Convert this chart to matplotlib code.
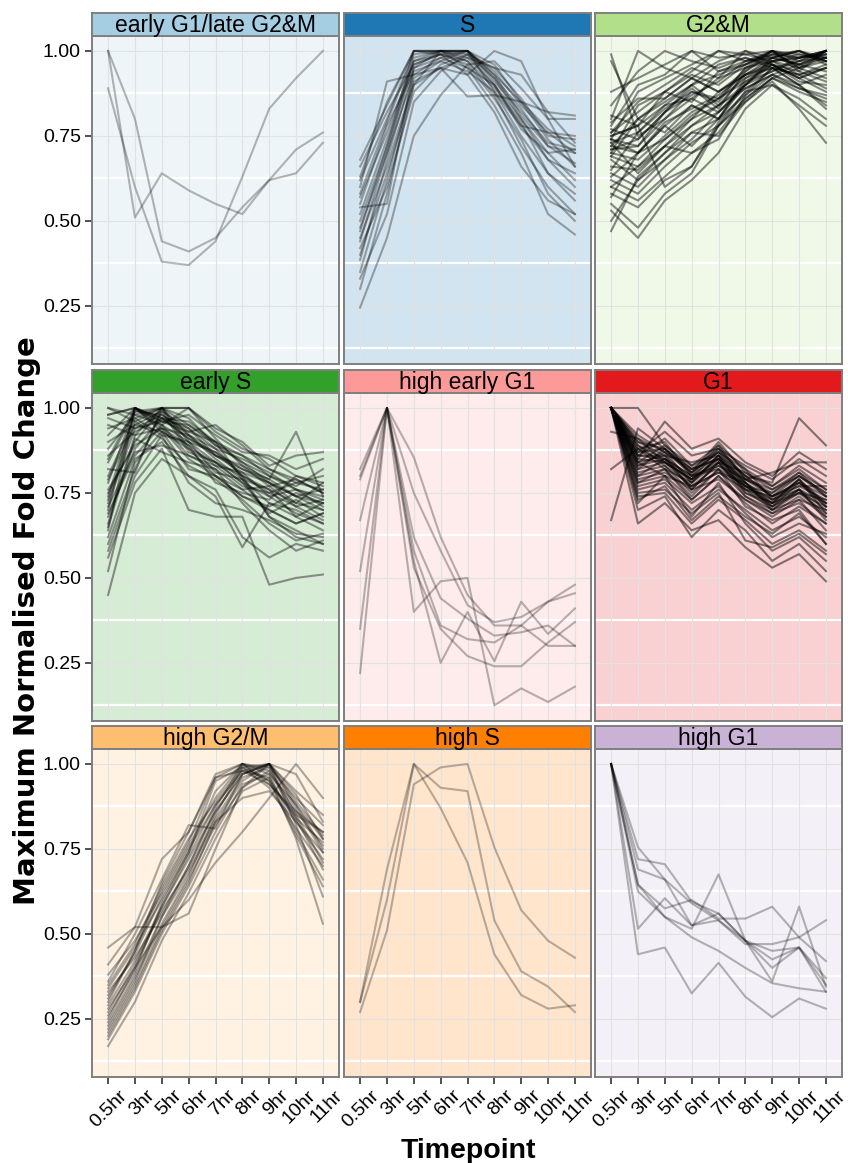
import numpy as np
import matplotlib
matplotlib.use("Agg")
import matplotlib.pyplot as plt
import matplotlib.transforms as mtransforms

plt.rcParams['font.family'] = ['Liberation Sans', 'DejaVu Sans']

# Timepoints on the x axis
timepoints = ["0.5hr", "3hr", "5hr", "6hr", "7hr", "8hr", "9hr", "10hr", "11hr"]

# Cluster names, in facet order
clusters = ["early G1/late G2&M", "S", "G2&M",
            "early S", "high early G1", "G1",
            "high G2/M", "high S", "high G1"]

# Strip colours (Paired palette)
strip_colours = ["#A6CEE3", "#1F78B4", "#B2DF8A",
                 "#33A02C", "#FB9A99", "#E31A1C",
                 "#FDBF6F", "#FF7F00", "#CAB2D6"]

# Profiles per cluster, one row per gene
early_g1_late_g2m = [
    [1.00, 0.80, 0.44, 0.41, 0.45, 0.54, 0.62, 0.71, 0.76],
    [1.00, 0.51, 0.64, 0.59, 0.55, 0.52, 0.62, 0.64, 0.73],
    [0.89, 0.60, 0.38, 0.37, 0.44, 0.63, 0.83, 0.92, 1.00],
]

s_phase = [
    [0.68, 0.84, 1.00, 1.00, 1.00, 0.93, 0.85, 0.77, 0.72],
    [0.62, 0.80, 1.00, 1.00, 0.98, 0.90, 0.80, 0.70, 0.62],
    [0.57, 0.76, 0.97, 1.00, 1.00, 0.92, 0.83, 0.72, 0.70],
    [0.54, 0.55, 0.95, 0.98, 1.00, 0.96, 0.85, 0.74, 0.66],
    [0.47, 0.72, 1.00, 1.00, 0.95, 0.90, 0.78, 0.68, 0.60],
    [0.44, 0.70, 0.98, 1.00, 1.00, 0.88, 0.75, 0.64, 0.56],
    [0.385, 0.68, 0.95, 1.00, 0.97, 0.87, 0.72, 0.60, 0.52],
    [0.35, 0.62, 0.92, 0.97, 1.00, 0.91, 0.82, 0.73, 0.71],
    [0.30, 0.58, 0.90, 0.95, 0.98, 0.95, 0.93, 0.82, 0.73],
    [0.245, 0.45, 0.75, 0.87, 0.96, 0.97, 0.89, 0.80, 0.66],
    [0.60, 0.91, 0.93, 0.95, 0.866, 0.87, 0.85, 0.82, 0.81],
    [0.66, 0.82, 0.96, 0.99, 0.93, 1.00, 0.97, 0.80, 0.80],
    [0.50, 0.72, 0.96, 0.99, 0.96, 0.86, 0.74, 0.58, 0.50],
    [0.48, 0.70, 0.93, 0.98, 0.95, 0.84, 0.70, 0.52, 0.46],
    [0.58, 0.79, 0.99, 1.00, 0.99, 0.90, 0.77, 0.70, 0.71],
    [0.52, 0.74, 0.97, 0.99, 1.00, 0.94, 0.84, 0.76, 0.70],
    [0.42, 0.60, 0.88, 0.96, 0.99, 0.92, 0.80, 0.68, 0.64],
    [0.55, 0.78, 0.94, 0.97, 0.94, 0.88, 0.78, 0.76, 0.75],
    [0.63, 0.85, 1.00, 0.99, 0.97, 0.89, 0.79, 0.64, 0.58],
    [0.45, 0.66, 0.91, 0.95, 0.93, 0.82, 0.66, 0.56, 0.52],
    [0.33, 0.52, 0.85, 0.94, 0.99, 0.95, 0.86, 0.75, 0.74],
    [0.40, 0.64, 0.90, 1.00, 1.00, 0.93, 0.81, 0.72, 0.67],
]

g2m = [
    [0.99, 0.75, 0.80, 0.88, 0.85, 0.95, 0.97, 0.98, 1.00],
    [0.97, 0.80, 0.85, 0.90, 0.93, 0.96, 1.00, 0.95, 0.97],
    [0.84, 0.94, 1.00, 0.97, 0.95, 0.98, 0.96, 0.92, 0.95],
    [0.80, 1.00, 0.95, 0.92, 0.88, 0.93, 0.95, 0.90, 0.93],
    [0.78, 0.90, 0.93, 1.00, 0.94, 0.97, 0.98, 0.96, 0.99],
    [0.76, 0.82, 0.88, 0.94, 1.00, 0.99, 0.97, 0.99, 0.98],
    [0.75, 0.78, 0.84, 0.90, 0.84, 0.93, 0.98, 1.00, 0.96],
    [0.74, 0.72, 0.80, 0.86, 0.82, 0.90, 0.96, 0.94, 1.00],
    [0.73, 0.76, 0.83, 0.88, 0.86, 0.95, 1.00, 0.97, 0.98],
    [0.72, 0.70, 0.78, 0.84, 0.80, 0.92, 0.97, 0.93, 0.95],
    [0.71, 0.74, 0.82, 0.89, 0.83, 0.94, 0.99, 0.98, 1.00],
    [0.70, 0.68, 0.75, 0.82, 0.86, 0.91, 0.96, 0.91, 0.90],
    [0.69, 0.66, 0.74, 0.80, 0.88, 0.94, 1.00, 0.95, 0.92],
    [0.72, 0.80, 0.86, 0.92, 0.97, 1.00, 0.96, 0.92, 0.88],
    [0.68, 0.62, 0.70, 0.78, 0.84, 0.90, 0.94, 0.97, 1.00],
    [0.66, 0.65, 0.72, 0.78, 0.82, 0.89, 0.93, 0.89, 0.86],
    [0.64, 0.60, 0.68, 0.76, 0.80, 0.90, 0.98, 1.00, 0.97],
    [0.62, 0.58, 0.66, 0.73, 0.78, 0.88, 0.95, 0.90, 0.84],
    [0.60, 0.56, 0.63, 0.70, 0.76, 0.86, 0.92, 0.95, 1.00],
    [0.58, 0.54, 0.62, 0.66, 0.79, 0.88, 0.90, 0.86, 0.80],
    [0.57, 0.70, 0.78, 0.72, 0.80, 0.87, 0.93, 0.96, 0.98],
    [0.55, 0.48, 0.58, 0.64, 0.78, 0.85, 0.92, 0.88, 0.85],
    [0.53, 0.45, 0.56, 0.62, 0.70, 0.83, 0.90, 0.84, 0.78],
    [0.50, 0.62, 0.68, 0.74, 0.82, 0.90, 0.97, 0.98, 1.00],
    [0.47, 0.63, 0.70, 0.76, 0.75, 0.85, 0.91, 0.83, 0.73],
    [0.88, 0.92, 0.96, 1.00, 0.98, 0.99, 1.00, 0.98, 0.99],
    [0.76, 0.85, 0.90, 0.95, 0.92, 1.00, 0.98, 1.00, 0.98],
    [0.74, 0.88, 0.92, 0.96, 1.00, 0.97, 0.99, 0.96, 1.00],
    [0.70, 0.84, 0.88, 0.93, 0.90, 0.96, 1.00, 0.99, 0.97],
    [0.73, 0.64, 0.72, 0.70, 0.74, 0.87, 0.95, 0.93, 0.89],
    [0.75, 0.78, 0.60, 0.66, 0.78, 0.86, 0.92, 0.89, 0.87],
    [0.71, 0.72, 0.82, 0.87, 0.91, 0.97, 1.00, 0.94, 0.91],
    [0.77, 0.74, 0.82, 0.90, 0.96, 0.98, 0.95, 0.97, 1.00],
    [0.65, 0.76, 0.84, 0.86, 0.92, 0.95, 0.98, 0.96, 0.94],
    [0.79, 0.86, 0.86, 0.92, 0.88, 0.93, 0.96, 0.92, 0.95],
    [0.69, 0.80, 0.76, 0.84, 0.80, 0.91, 0.94, 0.98, 0.99],
    [0.63, 0.70, 0.74, 0.81, 0.86, 0.92, 0.95, 0.93, 0.96],
    [0.81, 0.78, 0.88, 0.85, 0.94, 0.96, 0.99, 1.00, 0.97],
    [0.60, 0.66, 0.72, 0.80, 0.84, 0.89, 0.93, 0.90, 0.83],
    [0.74, 0.70, 0.79, 0.83, 0.87, 0.93, 0.97, 0.95, 0.98],
]

early_s = [
    [1.00, 0.96, 1.00, 0.95, 0.90, 0.86, 0.80, 0.76, 0.74],
    [0.98, 1.00, 0.94, 0.92, 0.86, 0.82, 0.78, 0.74, 0.72],
    [0.95, 0.92, 1.00, 1.00, 0.93, 0.88, 0.85, 0.80, 0.78],
    [0.92, 1.00, 0.97, 0.94, 0.88, 0.80, 0.76, 0.72, 0.70],
    [0.88, 0.98, 1.00, 0.90, 0.84, 0.78, 0.74, 0.76, 0.73],
    [0.85, 1.00, 0.96, 0.93, 0.95, 0.89, 0.82, 0.79, 0.75],
    [0.82, 0.81, 1.00, 0.88, 0.80, 0.74, 0.70, 0.66, 0.69],
    [0.78, 1.00, 0.95, 0.86, 0.82, 0.76, 0.77, 0.71, 0.67],
    [0.75, 0.90, 1.00, 1.00, 0.91, 0.83, 0.79, 0.74, 0.76],
    [0.72, 0.94, 0.98, 0.92, 0.85, 0.79, 0.72, 0.68, 0.64],
    [0.70, 1.00, 0.93, 0.89, 0.83, 0.77, 0.75, 0.78, 0.80],
    [0.68, 0.88, 0.97, 0.91, 0.87, 0.80, 0.68, 0.62, 0.60],
    [0.66, 0.92, 0.94, 0.85, 0.80, 0.74, 0.71, 0.75, 0.72],
    [0.64, 1.00, 0.96, 0.95, 0.89, 0.84, 0.80, 0.77, 0.82],
    [0.62, 0.85, 0.90, 0.80, 0.76, 0.62, 0.56, 0.60, 0.58],
    [0.60, 0.82, 0.99, 0.87, 0.84, 0.78, 0.69, 0.73, 0.68],
    [0.58, 0.80, 0.92, 0.78, 0.72, 0.70, 0.67, 0.63, 0.62],
    [0.56, 0.78, 0.88, 0.70, 0.68, 0.68, 0.48, 0.50, 0.51],
    [0.45, 0.75, 0.85, 0.80, 0.74, 0.59, 0.72, 0.70, 0.66],
    [1.00, 0.98, 0.95, 1.00, 0.94, 0.90, 0.83, 0.86, 0.87],
    [0.97, 0.94, 0.96, 0.98, 0.92, 0.87, 0.86, 0.82, 0.85],
    [0.94, 0.97, 0.92, 0.90, 0.87, 0.82, 0.79, 0.93, 0.74],
    [0.90, 0.95, 0.99, 0.94, 0.86, 0.81, 0.74, 0.69, 0.66],
    [0.86, 0.93, 0.97, 0.96, 0.90, 0.84, 0.78, 0.72, 0.78],
    [0.80, 0.97, 1.00, 0.92, 0.88, 0.85, 0.81, 0.76, 0.71],
    [0.76, 0.89, 0.94, 0.89, 0.78, 0.75, 0.73, 0.80, 0.77],
    [0.73, 0.96, 0.91, 0.83, 0.79, 0.73, 0.66, 0.61, 0.63],
    [0.69, 0.86, 0.95, 0.90, 0.81, 0.79, 0.76, 0.68, 0.72],
    [0.65, 0.91, 0.87, 0.84, 0.82, 0.72, 0.64, 0.58, 0.61],
    [0.52, 0.84, 0.93, 0.82, 0.80, 0.76, 0.70, 0.66, 0.69],
    [0.98, 1.00, 0.97, 0.91, 0.86, 0.83, 0.77, 0.79, 0.75],
    [0.84, 0.99, 1.00, 0.97, 0.89, 0.86, 0.82, 0.78, 0.76],
    [0.79, 0.95, 0.93, 0.88, 0.84, 0.80, 0.75, 0.71, 0.73],
    [0.74, 0.99, 0.98, 0.93, 0.90, 0.79, 0.68, 0.64, 0.60],
    [0.71, 0.87, 0.89, 0.86, 0.83, 0.81, 0.78, 0.74, 0.70],
]

high_early_g1 = [
    [0.82, 1.00, 0.855, 0.62, 0.45, 0.36, 0.36, 0.43, 0.455],
    [0.79, 1.00, 0.75, 0.58, 0.42, 0.37, 0.385, 0.43, 0.48],
    [0.67, 1.00, 0.58, 0.36, 0.32, 0.31, 0.36, 0.30, 0.30],
    [0.52, 1.00, 0.53, 0.35, 0.27, 0.24, 0.24, 0.31, 0.37],
    [0.35, 1.00, 0.40, 0.49, 0.50, 0.125, 0.175, 0.135, 0.18],
    [0.22, 1.00, 0.55, 0.25, 0.40, 0.255, 0.43, 0.335, 0.41],
    [0.80, 1.00, 0.62, 0.44, 0.38, 0.33, 0.34, 0.36, 0.30],
]

g1 = [
    [1.00, 0.90, 0.88, 0.82, 0.88, 0.80, 0.74, 0.78, 0.74],
    [1.00, 0.86, 0.85, 0.78, 0.86, 0.77, 0.72, 0.79, 0.72],
    [1.00, 0.88, 0.90, 0.80, 0.89, 0.79, 0.75, 0.81, 0.76],
    [1.00, 0.84, 0.86, 0.76, 0.84, 0.76, 0.70, 0.76, 0.70],
    [1.00, 0.82, 0.84, 0.79, 0.85, 0.78, 0.73, 0.77, 0.73],
    [1.00, 0.92, 0.87, 0.81, 0.90, 0.81, 0.76, 0.80, 0.75],
    [1.00, 1.00, 0.89, 0.83, 0.87, 0.82, 0.77, 0.83, 0.78],
    [1.00, 0.80, 0.82, 0.74, 0.82, 0.74, 0.69, 0.74, 0.68],
    [1.00, 0.78, 0.80, 0.73, 0.80, 0.72, 0.66, 0.71, 0.66],
    [1.00, 0.87, 0.93, 0.86, 0.88, 0.83, 0.79, 0.85, 0.80],
    [1.00, 0.85, 0.96, 0.88, 0.91, 0.84, 0.80, 0.87, 0.82],
    [1.00, 0.76, 0.78, 0.70, 0.76, 0.70, 0.64, 0.68, 0.62],
    [1.00, 0.74, 0.75, 0.66, 0.73, 0.67, 0.60, 0.64, 0.58],
    [1.00, 0.89, 0.83, 0.77, 0.81, 0.78, 0.72, 0.75, 0.69],
    [1.00, 0.72, 0.80, 0.68, 0.78, 0.66, 0.58, 0.62, 0.55],
    [1.00, 0.70, 0.74, 0.62, 0.70, 0.64, 0.55, 0.60, 0.52],
    [1.00, 0.66, 0.72, 0.64, 0.67, 0.59, 0.53, 0.57, 0.49],
    [1.00, 0.90, 0.86, 0.84, 0.86, 0.80, 0.78, 0.97, 0.89],
    [1.00, 0.83, 0.85, 0.80, 0.83, 0.79, 0.81, 0.84, 0.84],
    [0.93, 0.91, 0.87, 0.82, 0.85, 0.77, 0.73, 0.79, 0.71],
    [0.82, 0.88, 0.84, 0.79, 0.84, 0.75, 0.71, 0.76, 0.67],
    [0.67, 0.94, 0.88, 0.81, 0.87, 0.80, 0.74, 0.78, 0.72],
    [1.00, 0.79, 0.81, 0.76, 0.79, 0.73, 0.68, 0.73, 0.64],
    [1.00, 0.85, 0.84, 0.77, 0.83, 0.77, 0.71, 0.78, 0.71],
    [1.00, 0.87, 0.88, 0.80, 0.86, 0.78, 0.70, 0.75, 0.73],
    [1.00, 0.81, 0.83, 0.75, 0.82, 0.71, 0.67, 0.70, 0.60],
    [1.00, 0.77, 0.79, 0.72, 0.77, 0.69, 0.62, 0.66, 0.63],
    [1.00, 0.86, 0.86, 0.79, 0.88, 0.79, 0.74, 0.80, 0.74],
    [1.00, 0.84, 0.89, 0.82, 0.85, 0.76, 0.74, 0.77, 0.77],
    [1.00, 0.88, 0.82, 0.78, 0.84, 0.81, 0.77, 0.82, 0.76],
    [1.00, 0.75, 0.76, 0.69, 0.75, 0.61, 0.59, 0.63, 0.57],
    [1.00, 0.83, 0.87, 0.78, 0.86, 0.75, 0.72, 0.79, 0.69],
    [1.00, 0.89, 0.85, 0.80, 0.82, 0.77, 0.75, 0.80, 0.75],
    [1.00, 0.73, 0.77, 0.67, 0.74, 0.68, 0.63, 0.69, 0.60],
    [1.00, 0.86, 0.91, 0.83, 0.89, 0.82, 0.73, 0.76, 0.72],
    [1.00, 0.80, 0.85, 0.76, 0.84, 0.74, 0.70, 0.73, 0.70],
    [1.00, 0.91, 0.84, 0.79, 0.85, 0.79, 0.76, 0.81, 0.74],
    [1.00, 0.82, 0.88, 0.81, 0.87, 0.78, 0.71, 0.75, 0.71],
    [1.00, 0.78, 0.82, 0.73, 0.80, 0.73, 0.69, 0.72, 0.66],
    [1.00, 0.84, 0.80, 0.77, 0.81, 0.76, 0.72, 0.76, 0.68],
]

high_g2m = [
    [0.46, 0.52, 0.52, 0.56, 0.75, 0.93, 1.00, 0.97, 0.83],
    [0.28, 0.40, 0.52, 0.60, 0.71, 0.80, 0.90, 1.00, 0.90],
    [0.36, 0.50, 0.66, 0.82, 0.81, 0.97, 1.00, 0.88, 0.75],
    [0.30, 0.45, 0.65, 0.80, 0.97, 1.00, 0.97, 0.88, 0.78],
    [0.25, 0.40, 0.58, 0.73, 0.88, 0.98, 0.96, 0.78, 0.53],
    [0.22, 0.36, 0.55, 0.70, 0.86, 0.97, 1.00, 0.82, 0.61],
    [0.41, 0.52, 0.72, 0.80, 0.96, 0.98, 0.94, 0.85, 0.80],
    [0.38, 0.48, 0.62, 0.76, 0.90, 1.00, 0.99, 0.90, 0.82],
    [0.34, 0.46, 0.60, 0.74, 0.92, 1.00, 0.98, 0.86, 0.76],
    [0.32, 0.44, 0.61, 0.75, 0.88, 0.98, 1.00, 0.89, 0.79],
    [0.29, 0.42, 0.58, 0.72, 0.86, 0.97, 1.00, 0.87, 0.74],
    [0.27, 0.41, 0.57, 0.69, 0.84, 0.96, 0.99, 0.85, 0.71],
    [0.24, 0.38, 0.55, 0.68, 0.83, 0.95, 1.00, 0.91, 0.78],
    [0.21, 0.35, 0.52, 0.66, 0.82, 0.93, 0.98, 0.84, 0.69],
    [0.19, 0.33, 0.50, 0.64, 0.80, 0.94, 0.97, 0.80, 0.66],
    [0.17, 0.30, 0.48, 0.62, 0.78, 0.92, 0.96, 0.83, 0.72],
    [0.31, 0.45, 0.63, 0.77, 0.96, 1.00, 0.95, 0.84, 0.77],
    [0.26, 0.39, 0.59, 0.74, 0.95, 0.99, 0.93, 0.81, 0.70],
    [0.35, 0.47, 0.64, 0.78, 0.89, 0.99, 1.00, 0.92, 0.85],
    [0.23, 0.37, 0.53, 0.67, 0.85, 0.99, 0.95, 0.79, 0.64],
    [0.20, 0.34, 0.51, 0.65, 0.83, 0.90, 0.92, 0.83, 0.74],
    [0.33, 0.43, 0.56, 0.70, 0.87, 1.00, 0.94, 0.86, 0.80],
]

high_s = [
    [0.30, 0.69, 1.00, 0.87, 0.71, 0.44, 0.32, 0.28, 0.29],
    [0.27, 0.51, 0.94, 0.99, 1.00, 0.755, 0.57, 0.48, 0.43],
    [0.30, 0.60, 1.00, 0.93, 0.92, 0.54, 0.39, 0.345, 0.27],
]

high_g1 = [
    [1.00, 0.72, 0.705, 0.595, 0.56, 0.48, 0.425, 0.46, 0.35],
    [1.00, 0.755, 0.66, 0.59, 0.54, 0.47, 0.47, 0.49, 0.54],
    [1.00, 0.69, 0.66, 0.525, 0.56, 0.48, 0.40, 0.46, 0.37],
    [1.00, 0.645, 0.575, 0.60, 0.545, 0.545, 0.58, 0.49, 0.42],
    [1.00, 0.625, 0.55, 0.515, 0.675, 0.48, 0.36, 0.58, 0.345],
    [1.00, 0.515, 0.605, 0.525, 0.54, 0.48, 0.45, 0.46, 0.33],
    [1.00, 0.645, 0.55, 0.49, 0.45, 0.40, 0.355, 0.34, 0.33],
    [1.00, 0.44, 0.46, 0.325, 0.415, 0.315, 0.255, 0.31, 0.28],
]

profiles = [early_g1_late_g2m, s_phase, g2m,
            early_s, high_early_g1, g1,
            high_g2m, high_s, high_g1]

W, H = 848, 1163


def fig_box(x, y, w, h):
    # pixel box (top-left origin) -> figure fraction
    return [x / W, 1 - (y + h) / H, w / W, h / H]


def lighten(colour, a=0.2):
    rgb = np.array(matplotlib.colors.to_rgb(colour))
    return tuple(1 - a * (1 - rgb))


def main():
    fig = plt.figure(figsize=(W / 100, H / 100), dpi=100)

    col_left = [92, 344, 595]
    row_top = [36, 393, 749]
    pw, ph, sh = 247, 328, 23
    x = np.arange(len(timepoints))

    # dense clusters get darker lines so the overlap reads like the original
    line_alpha = [0.28, 0.32, 0.45, 0.40, 0.28, 0.48, 0.32, 0.28, 0.28]

    for i, name in enumerate(clusters):
        r, c = divmod(i, 3)
        ax = fig.add_axes(fig_box(col_left[c], row_top[r], pw, ph))
        ax.set_facecolor(lighten(strip_colours[i]))

        # grid: grey at breaks, white at minor breaks
        for yv in [0.125, 0.375, 0.625, 0.875]:
            ax.axhline(yv, color='white', lw=1.6, zorder=0.5)
        for yv in [0.25, 0.5, 0.75, 1.0]:
            ax.axhline(yv, color='#E2E2E2', lw=0.8, zorder=0.6)
        for xv in x:
            ax.axvline(xv, color='#E2E2E2', lw=0.8, zorder=0.6)

        for prof in profiles[i]:
            ax.plot(x, prof, color='black', alpha=line_alpha[i], lw=1.5,
                    zorder=2)

        ax.set_xlim(-0.6, 8.6)
        ax.set_ylim(0.079, 1.044)
        ax.set_xticks(x)
        ax.set_yticks([0.25, 0.5, 0.75, 1.0])
        for sp in ax.spines.values():
            sp.set_color('#7F7F7F')
            sp.set_linewidth(1.4)

        ax.tick_params(length=5, width=1.2, color='#333333', labelsize=14,
                       labelcolor='black', pad=3)
        if c == 0:
            ax.set_yticklabels(["0.25", "0.50", "0.75", "1.00"])
        else:
            ax.tick_params(axis='y', length=0, labelleft=False)
        if r == 2:
            ax.set_xticklabels(timepoints, rotation=45, ha='right', va='top',
                               rotation_mode='anchor')
            shift = mtransforms.ScaledTranslation(11 / 100, 1 / 100,
                                                  fig.dpi_scale_trans)
            for lab in ax.get_xticklabels():
                lab.set_transform(lab.get_transform() + shift)
        else:
            ax.tick_params(axis='x', length=0, labelbottom=False)

        # facet strip
        sax = fig.add_axes(fig_box(col_left[c], row_top[r] - sh, pw, sh))
        sax.set_facecolor(strip_colours[i])
        sax.set_xticks([])
        sax.set_yticks([])
        for sp in sax.spines.values():
            sp.set_color('#7F7F7F')
            sp.set_linewidth(1.4)
        sax.text(0.5, 0.45, name, ha='center', va='center', fontsize=16.5,
                 transform=sax.transAxes)

    # axis titles
    fig.text(27 / W, 1 - 621 / H, "Maximum Normalised Fold Change",
             rotation=90, ha='center', va='center', fontsize=21,
             fontweight='bold', family='DejaVu Sans')
    fig.text(468 / W, 1 - 1158 / H, "Timepoint", ha='center',
             va='baseline', fontsize=20.5, fontweight='bold')

    fig.savefig("out.png", dpi=100)


if __name__ == "__main__":
    main()
